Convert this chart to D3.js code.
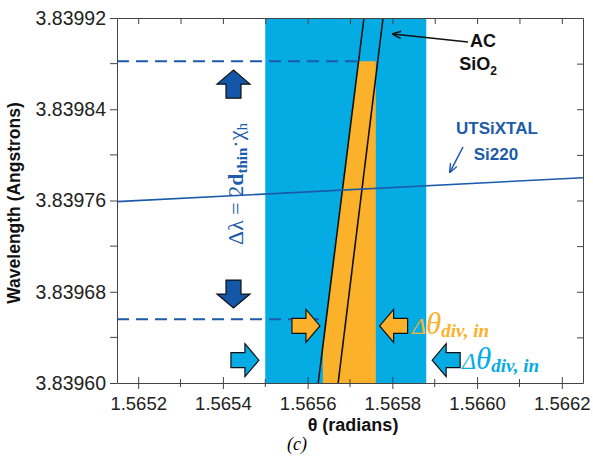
<!DOCTYPE html>
<html>
<head>
<meta charset="utf-8">
<script src="https://cdn.jsdelivr.net/npm/d3@7"></script>
<style>
  body { margin: 0; background: #fff; }
  svg text { font-family: "Liberation Sans", Arial, sans-serif; }
</style>
</head>
<body>
<svg id="chart" width="593" height="465"></svg>
<script>
// ---------------- data ----------------
var xDomain = [1.56515, 1.56625];
var yDomain = [3.83960, 3.83992];
var xTicks = [1.5652, 1.5654, 1.5656, 1.5658, 1.5660, 1.5662];
var xMinor = [1.5653, 1.5655, 1.5657, 1.5659, 1.5661];
var yTicks = [3.83960, 3.83968, 3.83976, 3.83984, 3.83992];
var yMinor = [3.83964, 3.83972, 3.83980, 3.83988];

// light blue divergence band (theta range)
var bandTheta = [1.56550, 1.56588];
// AC SiO2 rocking lines: [theta, lambda] at bottom and top
var acLeft = [[1.565625, 3.83960], [1.565733, 3.83992]];
var acRight = [[1.565672, 3.83960], [1.565778, 3.83992]];
// orange acceptance window
var orangeTheta = [1.565636, 1.565761];
var lambdaHigh = 3.839882;
var lambdaLow = 3.839656;
// UTSiXTAL Si220 line
var siLine = [[1.56515, 3.839759], [1.56625, 3.839780]];

// block arrows (centre in data units)
var arrows = [
  {x: 1.565425, y: 3.839862, dir: 'up', fill: '#1456a8'},
  {x: 1.565425, y: 3.839678, dir: 'down', fill: '#1456a8'},
  {x: 1.565596, y: 3.839650, dir: 'right', fill: '#fbb12a'},
  {x: 1.565803, y: 3.839650, dir: 'left', fill: '#fbb12a'},
  {x: 1.565452, y: 3.839620, dir: 'right', fill: '#05ace4'},
  {x: 1.565927, y: 3.839620, dir: 'left', fill: '#05ace4'}
];

var lightBlue = '#05ace4';
var orange = '#fbb12a';
var darkBlue = '#1c5aaa';

// ---------------- scales ----------------
var svg = d3.select('#chart');
var mLeft = 117, mRight = 583, mTop = 18, mBottom = 383;
var x = d3.scaleLinear().domain(xDomain).range([mLeft, mRight]);
var y = d3.scaleLinear().domain(yDomain).range([mBottom, mTop]);

// band
svg.append('rect')
  .attr('x', x(bandTheta[0]))
  .attr('y', mTop)
  .attr('width', x(bandTheta[1]) - x(bandTheta[0]))
  .attr('height', mBottom - mTop)
  .attr('fill', lightBlue);

// orange window, left edge follows the left AC line
function thetaOn(line, lam) {
  var t = (lam - line[0][1]) / (line[1][1] - line[0][1]);
  return line[0][0] + t * (line[1][0] - line[0][0]);
}
function lambdaOn(line, th) {
  var t = (th - line[0][0]) / (line[1][0] - line[0][0]);
  return line[0][1] + t * (line[1][1] - line[0][1]);
}
var orangePts = [
  [thetaOn(acLeft, lambdaHigh), lambdaHigh],
  [orangeTheta[1], lambdaHigh],
  [orangeTheta[1], yDomain[0]],
  [orangeTheta[0], yDomain[0]],
  [orangeTheta[0], lambdaOn(acLeft, orangeTheta[0])]
];
svg.append('polygon')
  .attr('points', orangePts.map(function(p){ return x(p[0]) + ',' + y(p[1]); }).join(' '))
  .attr('fill', orange);

// dashed wavelength limits
var dashes = [lambdaHigh, lambdaLow];
svg.selectAll('line.dash')
  .data(dashes)
  .enter()
  .append('line')
  .attr('class', 'dash')
  .attr('x1', x(xDomain[0]))
  .attr('x2', function(d){ return x(thetaOn(acLeft, d)); })
  .attr('y1', function(d){ return y(d); })
  .attr('y2', function(d){ return y(d); })
  .attr('stroke', darkBlue)
  .attr('stroke-width', 2)
  .attr('stroke-dasharray', '12,7');

// AC SiO2 lines
var line = d3.line().x(function(d){ return x(d[0]); }).y(function(d){ return y(d[1]); });
[acLeft, acRight].forEach(function(l) {
  svg.append('path').attr('d', line(l)).attr('stroke', '#111').attr('stroke-width', 1.6).attr('fill', 'none');
});

// Si220 line
svg.append('path').attr('d', line(siLine)).attr('stroke', darkBlue).attr('stroke-width', 1.6).attr('fill', 'none');

// ---------------- axes ----------------
var axisColor = '#444';
var xAxis = d3.axisBottom(x).tickValues(xTicks).tickFormat(d3.format('.4f')).tickSizeOuter(0).tickSizeInner(6);
var gx = svg.append('g').attr('transform', 'translate(0,' + mBottom + ')').call(xAxis);
gx.selectAll('.tick line').attr('y1', -6);
gx.selectAll('.tick line').attr('stroke', axisColor);
gx.select('.domain').attr('stroke', axisColor);
gx.selectAll('text').attr('font-size', 18.5).attr('fill', '#222').attr('dy', '0.95em');
gx.selectAll('.minor').data(xMinor).enter().append('line')
  .attr('x1', function(d){ return x(d); }).attr('x2', function(d){ return x(d); })
  .attr('y1', -4).attr('y2', 4).attr('stroke', axisColor);

var yAxis = d3.axisLeft(y).tickValues(yTicks).tickFormat(d3.format('.5f')).tickSizeOuter(0).tickSizeInner(7);
var gy = svg.append('g').attr('transform', 'translate(' + mLeft + ',0)').call(yAxis);
gy.selectAll('.tick line').attr('stroke', axisColor);
gy.select('.domain').attr('stroke', axisColor);
gy.selectAll('text').attr('font-size', 19.5).attr('fill', '#222').attr('dx', '-0.05em');
gy.selectAll('.minor').data(yMinor).enter().append('line')
  .attr('x1', -7).attr('x2', 0)
  .attr('y1', function(d){ return y(d); }).attr('y2', function(d){ return y(d); })
  .attr('stroke', axisColor);

// top and right frame with inward ticks
var gt = svg.append('g').attr('transform', 'translate(0,' + mTop + ')')
  .call(d3.axisTop(x).tickValues(xTicks.concat(xMinor)).tickFormat('').tickSizeOuter(0).tickSizeInner(-6));
gt.selectAll('line').attr('stroke', axisColor);
gt.select('.domain').attr('stroke', axisColor);
var gr = svg.append('g').attr('transform', 'translate(' + mRight + ',0)')
  .call(d3.axisRight(y).tickValues(yTicks.concat(yMinor)).tickFormat('').tickSizeOuter(0).tickSizeInner(-6));
gr.selectAll('line').attr('stroke', axisColor);
gr.select('.domain').attr('stroke', axisColor);

// axis titles
svg.append('text')
  .attr('transform', 'translate(20,203) rotate(-90)')
  .attr('text-anchor', 'middle')
  .attr('font-size', 17.5).attr('font-weight', 'bold').attr('fill', '#111')
  .text('Wavelength (Angstrons)');
svg.append('text')
  .attr('x', 353).attr('y', 431)
  .attr('text-anchor', 'middle')
  .attr('font-size', 18).attr('font-weight', 'bold').attr('fill', '#111')
  .text('θ (radians)');
svg.append('text')
  .attr('x', 297).attr('y', 450)
  .attr('text-anchor', 'middle')
  .attr('font-size', 18).attr('font-style', 'italic')
  .style('font-family', '"Liberation Serif", serif')
  .text('(c)');

// ---------------- block arrows ----------------
var L = 14, S = 7.5, H = 16.5;
var rightShape = [[-L, -S], [0, -S], [0, -H], [L, 0], [0, H], [0, S], [-L, S]];
var rot = {right: 0, down: 90, left: 180, up: -90};
svg.selectAll('polygon.arrow')
  .data(arrows)
  .enter()
  .append('polygon')
  .attr('class', 'arrow')
  .attr('points', rightShape.map(function(p){ return p.join(','); }).join(' '))
  .attr('transform', function(d){ return 'translate(' + x(d.x) + ',' + y(d.y) + ') rotate(' + rot[d.dir] + ')'; })
  .attr('fill', function(d){ return d.fill; })
  .attr('stroke', '#111')
  .attr('stroke-width', 1.2)
  .attr('stroke-linejoin', 'miter');

// ---------------- annotations ----------------
var defs = svg.append('defs');
defs.append('marker').attr('id', 'head').attr('viewBox', '0 0 10 10')
  .attr('refX', 9).attr('refY', 5).attr('markerWidth', 9).attr('markerHeight', 9)
  .attr('orient', 'auto').attr('markerUnits', 'userSpaceOnUse')
  .append('path').attr('d', 'M0,1 L10,5 L0,9').attr('fill', 'none').attr('stroke', '#111').attr('stroke-width', 1.6);

svg.append('line').attr('x1', 468).attr('y1', 42).attr('x2', 393).attr('y2', 34)
  .attr('stroke', '#111').attr('stroke-width', 1.6).attr('marker-end', 'url(#head)');
defs.append('marker').attr('id', 'headBlue').attr('viewBox', '0 0 10 10')
  .attr('refX', 9).attr('refY', 5).attr('markerWidth', 9).attr('markerHeight', 9)
  .attr('orient', 'auto').attr('markerUnits', 'userSpaceOnUse')
  .append('path').attr('d', 'M0,1 L10,5 L0,9').attr('fill', 'none').attr('stroke', darkBlue).attr('stroke-width', 1.6);
svg.append('line').attr('x1', 463).attr('y1', 147).attr('x2', 450).attr('y2', 172)
  .attr('stroke', darkBlue).attr('stroke-width', 1.6).attr('marker-end', 'url(#headBlue)');

var ac = svg.append('text').attr('text-anchor', 'middle').attr('font-size', 18).attr('font-weight', 'bold').attr('fill', '#111');
ac.append('tspan').attr('x', 483).attr('y', 47).text('AC');
ac.append('tspan').attr('x', 478).attr('y', 70).text('SiO');
ac.append('tspan').attr('font-size', 12).attr('dy', 5).text('2');

var ut = svg.append('text').attr('text-anchor', 'middle').attr('font-size', 17).attr('font-weight', 'bold').attr('fill', darkBlue);
ut.append('tspan').attr('x', 497).attr('y', 134).text('UTSiXTAL');
ut.append('tspan').attr('x', 496).attr('y', 160).text('Si220');

// rotated formula
var f = svg.append('text')
  .attr('transform', 'translate(243,184) rotate(-90)')
  .attr('text-anchor', 'middle')
  .attr('font-size', 22).attr('fill', darkBlue)
  .style('font-family', '"Liberation Serif", "DejaVu Serif", serif');
f.append('tspan').text('Δλ = 2');
f.append('tspan').attr('font-weight', 'bold').text('d');
f.append('tspan').attr('font-weight', 'bold').attr('font-size', 15).attr('dy', 4).text('thin');
f.append('tspan').attr('dy', -4).text('·χ');
f.append('tspan').attr('font-size', 15).attr('dy', 4).text('h');

// delta theta labels
function dtheta(px, py, color) {
  var t = svg.append('text').attr('x', px).attr('y', py).attr('fill', color)
    .style('font-family', '"Liberation Serif", "DejaVu Serif", serif').attr('font-style', 'italic');
  t.append('tspan').attr('font-size', 24).text('Δ');
  t.append('tspan').attr('font-size', 31).text('θ');
  t.append('tspan').attr('font-size', 19).attr('font-weight', 'bold').attr('dy', 3).text('div, in');
}
dtheta(412, 334, orange);
dtheta(462, 369, lightBlue);
</script>
</body>
</html>
